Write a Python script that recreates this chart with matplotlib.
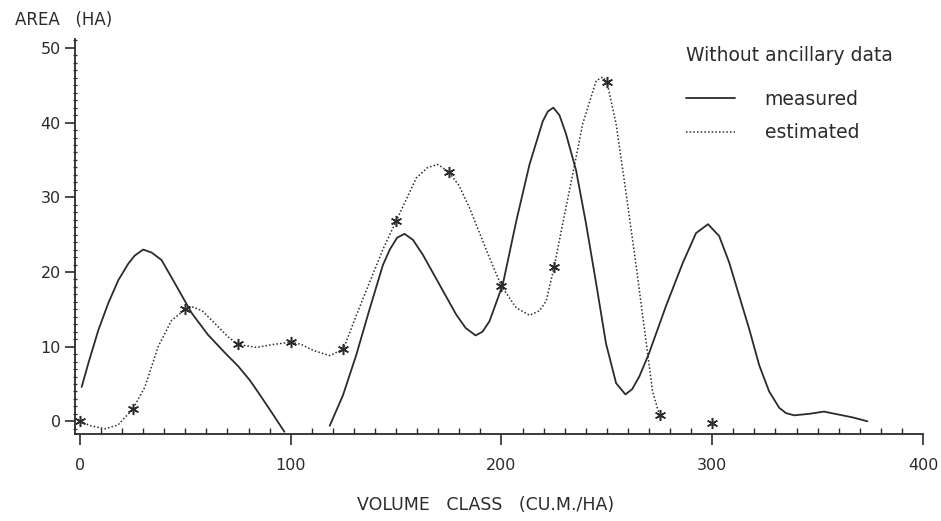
import numpy as np
import matplotlib
matplotlib.use("Agg")
import matplotlib.pyplot as plt
from matplotlib.ticker import MultipleLocator

# Estimated class values (stars), one per 25 m3/ha class
class_x = [0, 25, 50, 75, 100, 125, 150, 175, 200, 225, 250, 275, 300]
estimated_y = [0.0, 1.6, 15.0, 10.3, 10.6, 9.7, 26.8, 33.4, 18.1, 20.7, 45.5, 0.8, -0.2]

# Curves (measured curve dips below the axis near 100-118)
measured_x = [0.8, 3.9, 8.7, 13.4, 18.2, 22.9, 26, 30, 34, 38.7, 45, 53, 60.7, 68.7,
              75, 80.6, 85, 90, 97, np.nan, 118.5, 124.8, 131, 137.4, 143.7, 147, 150.5,
              154, 158, 162.7, 170.6, 178.5, 183, 187.7, 191, 194.3, 200.6, 207,
              213.3, 219.6, 222, 224.6, 227.5, 230.6, 235.4, 240.1, 244.9, 249.6,
              254.4, 258.8, 262, 265.4, 270, 278, 286, 292.3, 298, 303.3, 308,
              312.8, 317.5, 322.3, 327, 331.8, 335, 338.9, 346, 353, 360, 367, 373.6]
measured_y = [4.6, 7.7, 12.2, 15.8, 18.9, 21.1, 22.2, 23.0, 22.6, 21.6, 18.5, 14.5, 11.6, 9.2,
              7.4, 5.5, 3.7, 1.6, -1.4, np.nan, -0.6, 3.5, 8.8, 15.0, 20.9, 23.0, 24.6,
              25.1, 24.3, 22.3, 18.3, 14.3, 12.5, 11.5, 12.0, 13.4, 18.3, 26.8,
              34.4, 40.2, 41.5, 42.0, 41.0, 38.5, 33.6, 26.5, 18.5, 10.4,
              5.1, 3.6, 4.3, 6.0, 9.1, 15.4, 21.2, 25.2, 26.4, 24.8, 21.3,
              16.8, 12.4, 7.5, 4.0, 1.8, 1.1, 0.8, 1.0, 1.3, 0.9, 0.5, 0.0]

estimated_curve_x = [0, 5, 11.8, 18, 25, 30.8, 37.1, 43.4, 50, 53.7, 58, 64, 70.3, 75,
                     83.7, 92, 100, 105, 110.6, 118.5, 125, 131, 137.4, 143.7, 150,
                     159.6, 165, 169.8, 175, 180, 184.8, 194.3, 200, 207, 213.3, 218,
                     221.2, 225, 229, 233.8, 238.5, 244.9, 248, 250, 254.4, 259,
                     263.8, 268.6, 271.7, 275]
estimated_curve_y = [0.0, -0.6, -1.0, -0.5, 1.6, 4.6, 10.0, 13.5, 15.0, 15.3, 14.8, 13.1, 11.3, 10.3,
                     9.9, 10.3, 10.6, 10.3, 9.5, 8.8, 9.7, 14.1, 18.6, 23.0, 26.8,
                     32.6, 34.0, 34.4, 33.4, 31.5, 28.6, 21.9, 18.1, 15.2, 14.2, 14.8,
                     16.1, 20.7, 26.4, 33.1, 39.8, 45.6, 46.1, 45.5, 39.8, 30.8,
                     21.0, 10.7, 4.0, 0.8]

ink = '#2b2b2b'
plt.rcParams['font.family'] = ['DejaVu Sans']

fig = plt.figure(figsize=(9.41, 5.21), dpi=100)
ax = fig.add_axes([74.7 / 941, 87 / 521, (923 - 74.7) / 941, (434 - 39) / 521])

line_m, = ax.plot(measured_x, measured_y, color=ink, lw=1.3, solid_capstyle='round',
                  solid_joinstyle='round')
line_e, = ax.plot(estimated_curve_x, estimated_curve_y, color=ink, lw=1.1,
                  linestyle=(0, (1, 1.4)))
ax.plot(class_x, estimated_y, linestyle='none', marker=(6, 2, 0), markersize=8,
        markeredgewidth=1.1, color=ink)

ax.set_xlim(-2.5, 400)
ax.set_ylim(-1.7, 51.2)

ax.spines['top'].set_visible(False)
ax.spines['right'].set_visible(False)
for s in ('left', 'bottom'):
    ax.spines[s].set_color(ink)
    ax.spines[s].set_linewidth(1.3)

ax.xaxis.set_major_locator(MultipleLocator(100))
ax.xaxis.set_minor_locator(MultipleLocator(10))
ax.yaxis.set_major_locator(MultipleLocator(10))
ax.yaxis.set_minor_locator(MultipleLocator(1))

ax.tick_params(axis='x', which='major', direction='out', length=8, width=1.2,
               colors=ink, labelsize=11.5, pad=9)
ax.tick_params(axis='x', which='minor', direction='in', length=4, width=1.0, colors=ink)
ax.tick_params(axis='y', which='major', direction='out', length=7, width=1.2,
               colors=ink, labelsize=11.5, pad=3)
ax.tick_params(axis='y', which='minor', direction='inout', length=3.5, width=0.9, colors=ink)

fig.text(15 / 941, 1 - 20 / 521, 'AREA   (HA)', ha='left', va='center',
         fontsize=12, color=ink)
fig.text(486 / 941, 1 - 505 / 521, 'VOLUME   CLASS   (CU.M./HA)', ha='center', va='center',
         fontsize=12.5, color=ink)

leg = ax.legend([line_m, line_e], ['measured', 'estimated'],
                title='Without ancillary data', loc='upper left',
                bbox_to_anchor=(686 / 941, 1 - 46 / 521), bbox_transform=fig.transFigure,
                frameon=False, fontsize=13.5, title_fontsize=13.5, handlelength=2.6,
                handletextpad=1.6, labelspacing=0.75, borderpad=0, borderaxespad=0,
                alignment='left')
for t in leg.get_texts():
    t.set_color(ink)
leg.get_title().set_color(ink)
leg._legend_box.sep = 18

fig.savefig('out.png', dpi=100, facecolor='white')
